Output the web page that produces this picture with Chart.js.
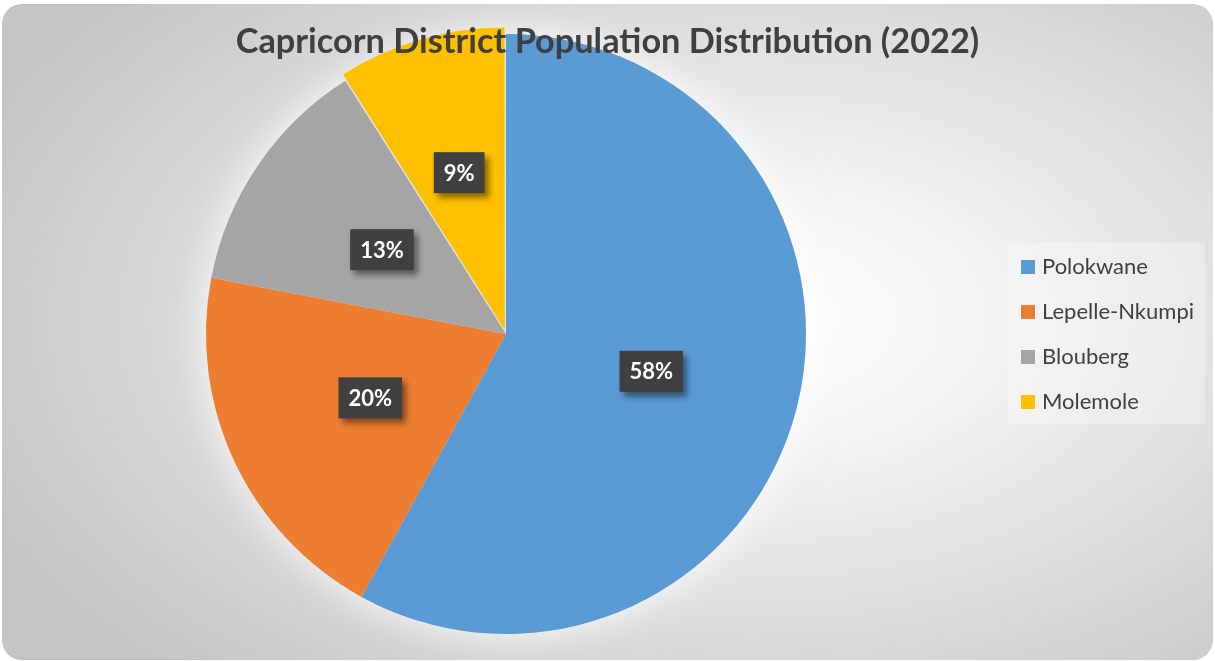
<!DOCTYPE html>
<html>
<head>
<meta charset="utf-8">
<script src="https://cdn.jsdelivr.net/npm/chart.js@4.4.0/dist/chart.umd.min.js"></script>
<style>
  html, body { margin: 0; padding: 0; background: #fff; }
  #frame {
    position: absolute; left: 2px; top: 4px; width: 1211px; height: 656px;
    border-radius: 20px; overflow: hidden;
    background: radial-gradient(ellipse 70% 75% at 62% 48%, #ffffff 0%, #f4f4f4 25%, #dedede 60%, #c4c4c4 100%);
  }
  #chart { position: absolute; left: 0; top: 0; }
  #title {
    position: absolute; left: 0; width: 1215px; top: 19px; text-align: center;
    font: bold 34.3px Lato, sans-serif; color: #404040; pointer-events: none;
  }
  #legend {
    position: absolute; left: 1008px; top: 243px; width: 197px; height: 181px;
    background: rgba(255,255,255,0.3); font: 22px Lato, sans-serif; color: #404040;
  }
  #legend .item { position: absolute; left: 13px; height: 24px; line-height: 24px; white-space: nowrap; }
  #legend .sw { display: inline-block; width: 14px; height: 14px; margin-right: 7px; vertical-align: 0px; }
</style>
</head>
<body>
<div id="frame"></div>
<canvas id="chart" width="1215" height="661"></canvas>
<div id="title">Capricorn District Population Distribution (2022)</div>
<div id="legend"></div>
<script>
// Capricorn District — part de la population par municipalité (2022)
const municipalities = ['Polokwane', 'Lepelle-Nkumpi', 'Blouberg', 'Molemole'];
const shares = [58, 20, 13, 9];
const sliceColors = ['#5B9BD5', '#ED7D31', '#A5A5A5', '#FFC000'];
const sliceOffsets = [0, 0, 0, 18];

// halo blanc autour du camembert
const pieGlow = {
  id: 'pieGlow',
  beforeDatasetsDraw(chart) {
    const arc = chart.getDatasetMeta(0).data[0];
    if (!arc) return;
    const ctx = chart.ctx;
    ctx.save();
    ctx.shadowColor = 'rgba(255,255,255,0.9)';
    ctx.shadowBlur = 40;
    ctx.fillStyle = '#e2e2e2';
    ctx.beginPath();
    ctx.arc(arc.x, arc.y, arc.outerRadius, 0, Math.PI * 2);
    ctx.fill();
    ctx.restore();
  }
};

// étiquettes % dans des boîtes sombres
const pctLabels = {
  id: 'pctLabels',
  afterDatasetsDraw(chart) {
    const ctx = chart.ctx;
    const total = shares.reduce(function(s, v) { return s + v; }, 0);
    chart.getDatasetMeta(0).data.forEach(function(arc, i) {
      const mid = (arc.startAngle + arc.endAngle) / 2;
      const r = arc.outerRadius / 2 + (sliceOffsets[i] || 0);
      const x = arc.x + Math.cos(mid) * r;
      const y = arc.y + Math.sin(mid) * r;
      const txt = Math.round(shares[i] / total * 100) + '%';
      ctx.save();
      ctx.font = 'bold 22px Lato, sans-serif';
      const w = ctx.measureText(txt).width + 20;
      const h = 41;
      ctx.shadowColor = 'rgba(0,0,0,0.45)';
      ctx.shadowBlur = 6;
      ctx.shadowOffsetX = 4;
      ctx.shadowOffsetY = 5;
      ctx.fillStyle = '#404040';
      ctx.fillRect(x - w / 2, y - h / 2, w, h);
      ctx.restore();
      ctx.save();
      ctx.font = 'bold 22px Lato, sans-serif';
      ctx.fillStyle = '#ffffff';
      ctx.textAlign = 'center';
      ctx.textBaseline = 'middle';
      ctx.fillText(txt, x, y + 1);
      ctx.restore();
    });
  }
};

new Chart(document.getElementById('chart').getContext('2d'), {
  type: 'pie',
  data: {
    labels: municipalities,
    datasets: [{
      data: shares,
      backgroundColor: sliceColors,
      borderWidth: 0,
      offset: sliceOffsets,
      clip: false
    }]
  },
  options: {
    responsive: false,
    animation: false,
    radius: 300,
    layout: { padding: { left: 201, right: 404, top: 29, bottom: 22 } },
    plugins: {
      legend: { display: false },
      tooltip: { enabled: false },
      title: { display: false }
    }
  },
  plugins: [pieGlow, pctLabels]
});

// légende HTML construite depuis les tableaux
const leg = document.getElementById('legend');
municipalities.forEach(function(m, i) {
  const it = document.createElement('div');
  it.className = 'item';
  it.style.top = (11 + i * 45) + 'px';
  it.innerHTML = '<span class="sw" style="background:' + sliceColors[i] + '"></span>' + m;
  leg.appendChild(it);
});
</script>
</body>
</html>
